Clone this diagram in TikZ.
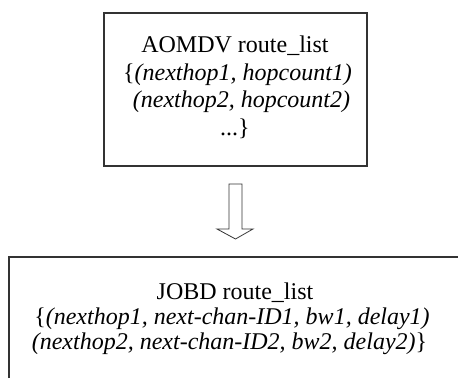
\documentclass[tikz,border=0pt]{standalone}
\usepackage{fontspec}
\setmainfont{Liberation Serif}
\begin{document}
\begin{tikzpicture}[x=1pt,y=1pt,
  boxline/.style={draw=black!80, line width=1.1pt},
  txt/.style={anchor=base, inner sep=0pt, font=\fontsize{24}{26}\selectfont}]
\useasboundingbox (0,0) rectangle (458,378);
% top box
\node[boxline, minimum width=263, minimum height=153, inner sep=0pt] (aomdv) at (235.5,288.5) {};
\node[txt] (a1) at (235,325) {AOMDV route\_list};
\node[txt] (a2) at (237.5,297.5) {\{\textit{(nexthop1, hopcount1)}};
\node[txt] (a3) at (241.5,270) {\textit{(nexthop2, hopcount2)}};
\node[txt] (a4) at (235,242.5) {...\}};
% arrow
\draw[boxline, line width=0.8pt, line join=miter]
  (229,194) -- (242,194) -- (242,149) -- (253,149) -- (235.5,139)
  -- (217,149) -- (229,149) -- cycle;
% bottom box (cropped)
\coordinate (bl) at (9,0);
\coordinate (tl) at (9,121);
\coordinate (tr) at (458,121);
\draw[boxline] (bl) -- (tl) -- (tr);
\node[txt] (j1) at (235,79) {JOBD route\_list};
\node[txt] (j2) at (232,54) {\{\textit{(nexthop1, next-chan-ID1, bw1, delay1)}};
\node[txt] (j3) at (229.5,29) {\textit{(nexthop2, next-chan-ID2, bw2, delay2)}\}};
\end{tikzpicture}
\end{document}
